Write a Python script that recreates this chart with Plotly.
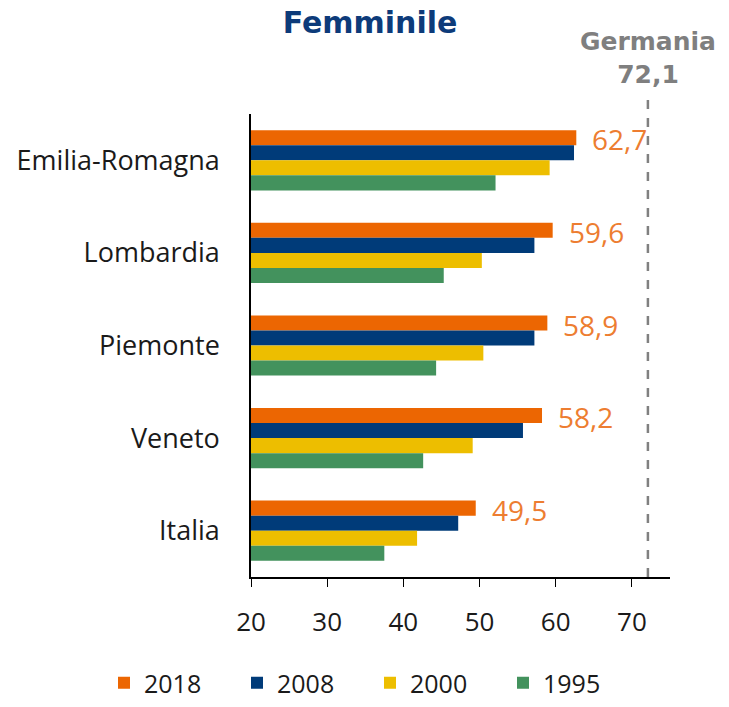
import plotly.graph_objects as go

categories = ["Emilia-Romagna", "Lombardia", "Piemonte", "Veneto", "Italia"]
years = ["2018", "2008", "2000", "1995"]
v2018 = [62.7, 59.6, 58.9, 58.2, 49.5]
v2008 = [62.4, 57.2, 57.2, 55.7, 47.2]
v2000 = [59.2, 50.3, 50.5, 49.1, 41.8]
v1995 = [52.1, 45.3, 44.3, 42.6, 37.5]
labels2018 = ["62,7", "59,6", "58,9", "58,2", "49,5"]
germania = 72.1
germania_label = "Germania<br>72,1"
xticks = [20, 30, 40, 50, 60, 70]

colors = ["#EC6602", "#003B79", "#EDBE00", "#43925D"]
series = [v2018, v2008, v2000, v1995]

FONT = "Open Sans"
TFONT = "DejaVu Sans"
fig = go.Figure()
for name, vals, col in zip(years, series, colors):
    fig.add_trace(go.Bar(
        y=categories, x=vals, name=name, orientation="h",
        marker=dict(color=col, line=dict(width=0)),
    ))

# value labels for 2018
for cat, v, lab in zip(categories, v2018, labels2018):
    fig.add_annotation(x=v, y=cat, text=lab, showarrow=False,
                       xanchor="left", yanchor="middle", xshift=14, yshift=21,
                       font=dict(family=FONT, size=28, color="#ED7D31"))

# Germania reference line
fig.add_shape(type="line", x0=germania, x1=germania, yref="paper", y0=0, y1=1.041,
              line=dict(color="#808080", width=2.5, dash="dash"))
fig.add_annotation(x=germania, xref="x", yref="paper", y=1.05, text=germania_label,
                   showarrow=False, xanchor="center", yanchor="bottom",
                   font=dict(family=TFONT, size=25, color="#7F7F7F", weight="bold"))

PL, PW, PB, PH = 251, 419, 577, 463
fig.update_layout(
    width=729, height=707,
    paper_bgcolor="white", plot_bgcolor="white",
    margin=dict(l=PL, r=729 - PL - PW, t=PB - PH, b=707 - PB, autoexpand=False),
    barmode="group", bargap=0.35, bargroupgap=0,
    title=dict(text="<b>Femminile</b>", x=370 / 729, xanchor="center", y=1 - 22 / 707, yanchor="middle",
               font=dict(family=TFONT, size=30, color="#0D3B7A")),
    legend=dict(orientation="h",
                x=(104 - PL) / PW, xanchor="left", y=(PB - 706) / PH, yanchor="bottom",
                font=dict(family=FONT, size=25, color="#1a1a1a"),
                entrywidth=88, entrywidthmode="pixels",
                itemwidth=30, traceorder="normal"),
    showlegend=True,
)
fig.update_xaxes(range=[20, 75], tickvals=xticks, ticks="outside", ticklen=8,
                 tickcolor="black", showline=True, linecolor="black", linewidth=1.5,
                 showgrid=False, zeroline=False, ticklabelstandoff=13,
                 tickfont=dict(family=FONT, size=26, color="#1a1a1a"))
fig.update_yaxes(autorange="reversed", showline=True, linecolor="black", linewidth=1.5,
                 showgrid=False, ticks="", ticklabelstandoff=24,
                 tickfont=dict(family=FONT, size=27, color="#1a1a1a"))

fig.write_html("out.html", config={"displayModeBar": False},
               post_script="document.body.style.margin='0px';")
